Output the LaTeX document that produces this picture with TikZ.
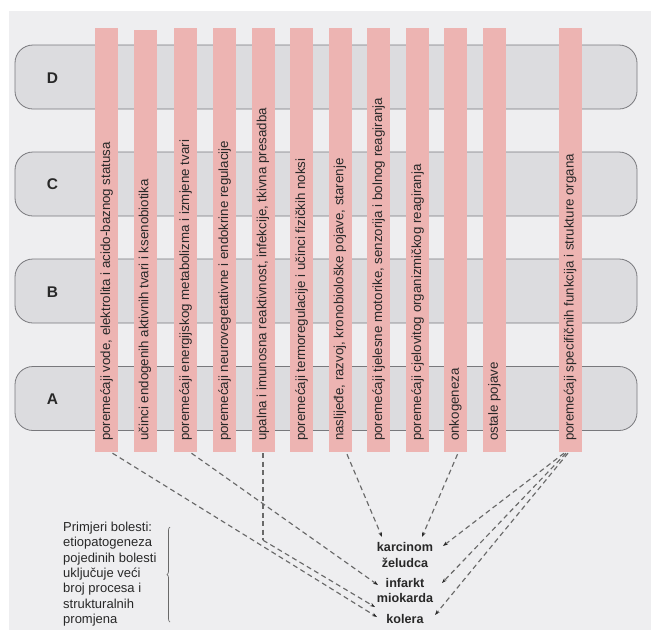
\documentclass[tikz,border=0pt]{standalone}
\usepackage{fontspec}
\setmainfont{Liberation Sans}
\usetikzlibrary{arrows.meta,decorations.pathreplacing,calc}
\definecolor{bg}{RGB}{238,238,240}
\definecolor{bandfill}{RGB}{220,220,223}
\definecolor{bandline}{RGB}{120,120,124}
\definecolor{barpink}{RGB}{237,180,178}
\definecolor{txt}{RGB}{40,40,40}
\definecolor{dashc}{RGB}{105,105,105}
\begin{document}
\begin{tikzpicture}[x=1pt,y=-1pt,
  band/.style={draw=bandline, line width=0.8pt, fill=bandfill, rounded corners=18pt,
    minimum width=622pt, minimum height=64pt, inner sep=0pt},
  bandlabel/.style={font=\bfseries\fontsize{15.5}{18}\selectfont, text=txt},
  bar/.style={fill=barpink, draw=none, minimum width=23pt, inner sep=0pt},
  bartext/.style={rotate=90, anchor=west, inner sep=0pt, font=\fontsize{13.3}{15}\selectfont, text=txt},
  dis/.style={font=\bfseries\fontsize{12.6}{15.5}\selectfont, text=txt, align=center, inner sep=1pt},
  note/.style={font=\fontsize{13}{15.3}\selectfont, text=txt, align=left, inner sep=0pt, anchor=north west},
  plainlink/.style={draw=dashc, dash pattern=on 5pt off 3.5pt, line width=1.15pt},
  link/.style={plainlink, -{Stealth[length=5pt,width=3.5pt,color=txt]}},
  bracestyle/.style={draw=dashc, line width=0.7pt, decorate, decoration={brace, amplitude=3pt}},
]
\useasboundingbox (0,0) rectangle (651,630);
\fill[bg] (9,11) rectangle (651,630);

% bands
\node[band] (D) at (326,77) {};
\node[band] (C) at (326,184) {};
\node[band] (B) at (326,291) {};
\node[band] (A) at (326,398.5) {};
\node[bandlabel] (Dl) at (52.5,78) {D};
\node[bandlabel] (Cl) at (52.5,184) {C};
\node[bandlabel] (Bl) at (52.5,292) {B};
\node[bandlabel] (Al) at (52.5,399) {A};

% bars
\foreach \n/\x/\top/\t in {
  1/106.5/28/{poremećaji vode, elektrolita i acido-baznog statusa},
  2/145/30/{učinci endogenih aktivnih tvari i ksenobiotika},
  3/185.5/28/{poremećaji energijskog metabolizma i izmjene tvari},
  4/224.5/28/{poremećaji neurovegetativne i endokrine regulacije},
  5/263/28/{upalna i imunosna reaktivnost, infekcije, tkivna presadba},
  6/301.5/28/{poremećaji termoregulacije i učinci fizičkih noksi},
  7/340/28/{naslijeđe, razvoj, kronobiološke pojave, starenje},
  8/378.5/28/{poremećaji tjelesne motorike, senzorija i bolnog reagiranja},
  9/417.5/28/{poremećaji cjelovitog organizmičkog reagiranja},
  10/455.5/28/{onkogeneza},
  11/494.5/28/{ostale pojave},
  12/570/28/{poremećaji specifičnih funkcija i strukture organa}}{
  \node[bar, minimum height={452-\top}] (b\n) at (\x,{(452+\top)/2}) {};
  \node[bartext] (t\n) at (\x,441) {\t};
}

% diseases
\node[dis] (k) at (405,555) {karcinom\\želudca};
\node[dis] (i) at (405,590.5) {infarkt\\miokarda};
\node[dis] (c) at (405,619) {kolera};

% note
\node[note] (nt) at (63,522) {Primjeri bolesti:\\etiopatogeneza\\pojedinih bolesti\\uključuje veći\\broj procesa i\\strukturalnih\\promjena};
\draw[bracestyle] (170,622) -- (170,527);

% connectors
\coordinate (v5) at ($(b5.south)+(0,88)$);
\draw[link] ($(b1.south)+(6,1)$) -- ($(c.center)+(-28,-2)$);
\draw[link] ($(b3.south)+(6,1)$) -- ($(i.center)+(-27,-5.5)$);
\draw[plainlink] ($(b5.south)+(0,1)$) -- (v5);
\draw[link] (v5) -- ($(c.center)+(-30,-12)$);
\draw[link] ($(b7.south)+(7,2)$) -- ($(k.center)+(-23,-18)$);
\draw[link] ($(b10.south)+(2,2)$) -- ($(k.center)+(17,-18)$);
\draw[link] ($(b12.south)+(-6,1)$) -- ($(k.center)+(38,-9)$);
\draw[link] ($(b12.south)+(-4,1)$) -- ($(i.center)+(37,-7.5)$);
\draw[link] ($(b12.south)+(-2,1)$) -- ($(c.center)+(30,-4)$);
\end{tikzpicture}
\end{document}
